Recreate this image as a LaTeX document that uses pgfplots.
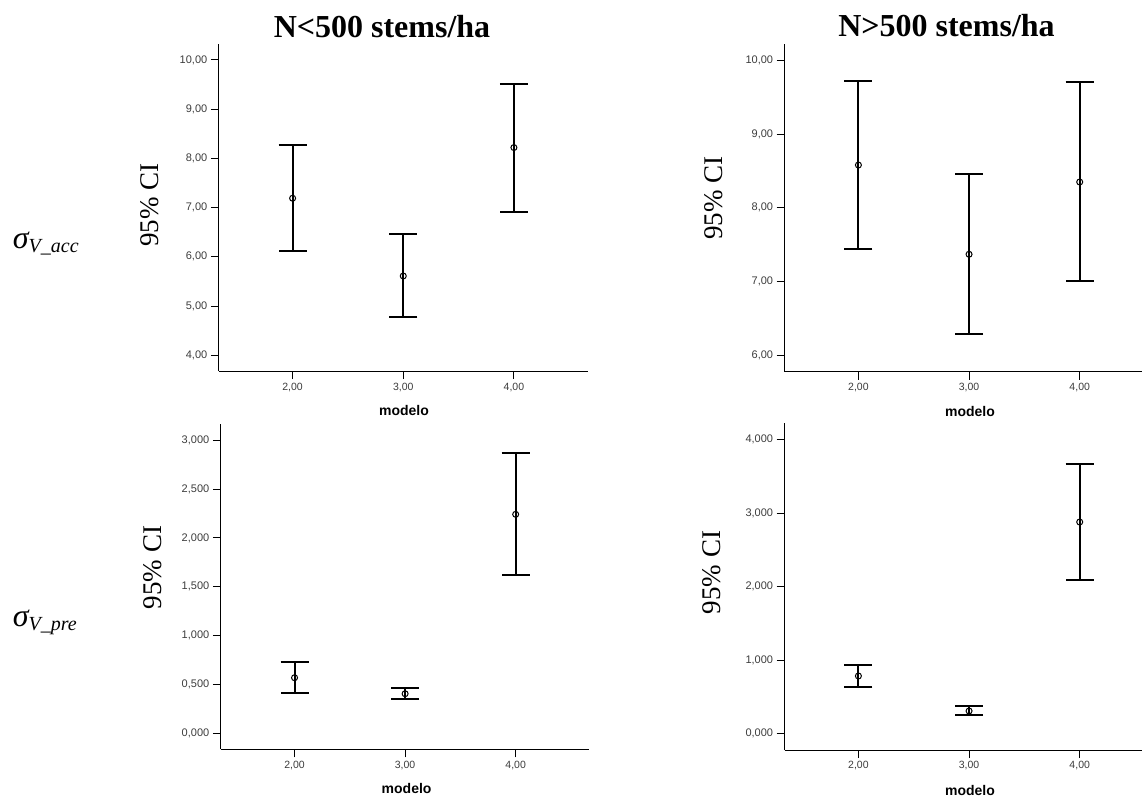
\documentclass[border=0pt]{standalone}
\usepackage{fontspec}
\setmainfont{Liberation Serif}
\newfontfamily\sansf{Liberation Sans}
\usepackage{pgfplots}
\usepackage{pgfplotstable}
\pgfplotsset{compat=1.18}
\definecolor{ticktext}{RGB}{60,60,60}

\pgfplotstableread{
x m hi lo
2 7.19 8.27 6.12
3 5.61 6.46 4.77
4 8.22 9.52 6.91
}\dataTL
\pgfplotstableread{
x m hi lo
2 8.58 9.72 7.44
3 7.37 8.46 6.29
4 8.35 9.70 7.01
}\dataTR
\pgfplotstableread{
x m hi lo
2 0.569 0.730 0.410
3 0.405 0.464 0.351
4 2.242 2.867 1.624
}\dataBL
\pgfplotstableread{
x m hi lo
2 0.785 0.939 0.635
3 0.309 0.372 0.254
4 2.880 3.673 2.091
}\dataBR

\pgfplotsset{
  spss/.style={
    scale only axis,
    anchor=south west,
    axis lines=left,
    axis line style={-, line width=1pt, black},
    xmin=1.333, xmax=4.667,
    xtick={2,3,4},
    tick align=outside,
    major tick length=8pt,
    tick style={line width=1pt, black},
    /pgf/number format/assume math mode=true,
    xticklabel style={font=\sansf\fontsize{10.5}{12}\selectfont, text=ticktext,
      /pgf/number format/.cd, use comma, fixed, fixed zerofill, precision=2},
    yticklabel style={font=\sansf\fontsize{11}{12}\selectfont, text=ticktext},
    clip=false,
  },
  ci/.style={only marks, mark=o, mark size=3pt, black,
    mark options={line width=1pt, fill=none},
    error bars/.cd, y dir=both, y explicit,
    error bar style={line width=2pt, black},
    error mark options={mark size=14pt, line width=2pt, black, rotate=90}},
}

\begin{document}
\begin{tikzpicture}
\path[use as bounding box] (0pt,0pt) rectangle (1142pt,796pt);

% Top left
\begin{axis}[spss, at={(218.8pt,424.8pt)}, width=368.9pt, height=327.2pt,
  ymin=3.675, ymax=10.325, ytick={4,5,6,7,8,9,10},
  yticklabel style={/pgf/number format/.cd, use comma, fixed, fixed zerofill, precision=2}]
\addplot+[ci] table[x=x, y=m, y error plus expr=\thisrow{hi}-\thisrow{m}, y error minus expr=\thisrow{m}-\thisrow{lo}] {\dataTL};
\end{axis}

% Top right
\begin{axis}[spss, at={(784.6pt,424pt)}, width=368.9pt, height=328pt,
  ymin=5.774, ymax=10.221, ytick={6,7,8,9,10},
  yticklabel style={/pgf/number format/.cd, use comma, fixed, fixed zerofill, precision=2}]
\addplot+[ci] table[x=x, y=m, y error plus expr=\thisrow{hi}-\thisrow{m}, y error minus expr=\thisrow{m}-\thisrow{lo}] {\dataTR};
\end{axis}

% Bottom left
\begin{axis}[spss, at={(220.8pt,46.7pt)}, width=368.6pt, height=325.3pt,
  ymin=-0.164, ymax=3.167, ytick={0,0.5,1,1.5,2,2.5,3},
  yticklabel style={/pgf/number format/.cd, use comma, fixed, fixed zerofill, precision=3}]
\addplot+[ci] table[x=x, y=m, y error plus expr=\thisrow{hi}-\thisrow{m}, y error minus expr=\thisrow{m}-\thisrow{lo}] {\dataBL};
\end{axis}

% Bottom right
\begin{axis}[spss, at={(784.6pt,46pt)}, width=368.9pt, height=326.7pt,
  ymin=-0.222, ymax=4.223, ytick={0,1,2,3,4},
  yticklabel style={/pgf/number format/.cd, use comma, fixed, fixed zerofill, precision=3}]
\addplot+[ci] table[x=x, y=m, y error plus expr=\thisrow{hi}-\thisrow{m}, y error minus expr=\thisrow{m}-\thisrow{lo}] {\dataBR};
\end{axis}

% Titles
\node[anchor=base, inner sep=0] at (382pt,758.7pt) {\fontsize{32}{32}\selectfont\bfseries N<500 stems/ha};
\node[anchor=base, inner sep=0] at (946.5pt,759.3pt) {\fontsize{32}{32}\selectfont\bfseries N>500 stems/ha};

% x labels
\node[inner sep=0] at (404pt,386pt) {\sansf\bfseries\fontsize{14}{14}\selectfont modelo};
\node[inner sep=0] at (970pt,384.3pt) {\sansf\bfseries\fontsize{14}{14}\selectfont modelo};
\node[inner sep=0] at (406.6pt,7.7pt) {\sansf\bfseries\fontsize{14}{14}\selectfont modelo};
\node[inner sep=0] at (970pt,6pt) {\sansf\bfseries\fontsize{14}{14}\selectfont modelo};

% y labels
\node[rotate=90, inner sep=0] at (150pt,591pt) {\fontsize{27}{27}\selectfont 95\% CI};
\node[rotate=90, inner sep=0] at (714pt,598pt) {\fontsize{27}{27}\selectfont 95\% CI};
\node[rotate=90, inner sep=0] at (153pt,228.5pt) {\fontsize{27}{27}\selectfont 95\% CI};
\node[rotate=90, inner sep=0] at (712pt,223.5pt) {\fontsize{27}{27}\selectfont 95\% CI};

% row labels
\node[anchor=base west, inner sep=0] at (12.7pt,547pt) {{\fontsize{32}{32}\selectfont\itshape σ}{\fontsize{20}{20}\selectfont\itshape\raisebox{-4pt}{V\_acc}}};
\node[anchor=base west, inner sep=0] at (12.7pt,170pt) {{\fontsize{32}{32}\selectfont\itshape σ}{\fontsize{20}{20}\selectfont\itshape\raisebox{-4pt}{V\_pre}}};
\end{tikzpicture}
\end{document}
